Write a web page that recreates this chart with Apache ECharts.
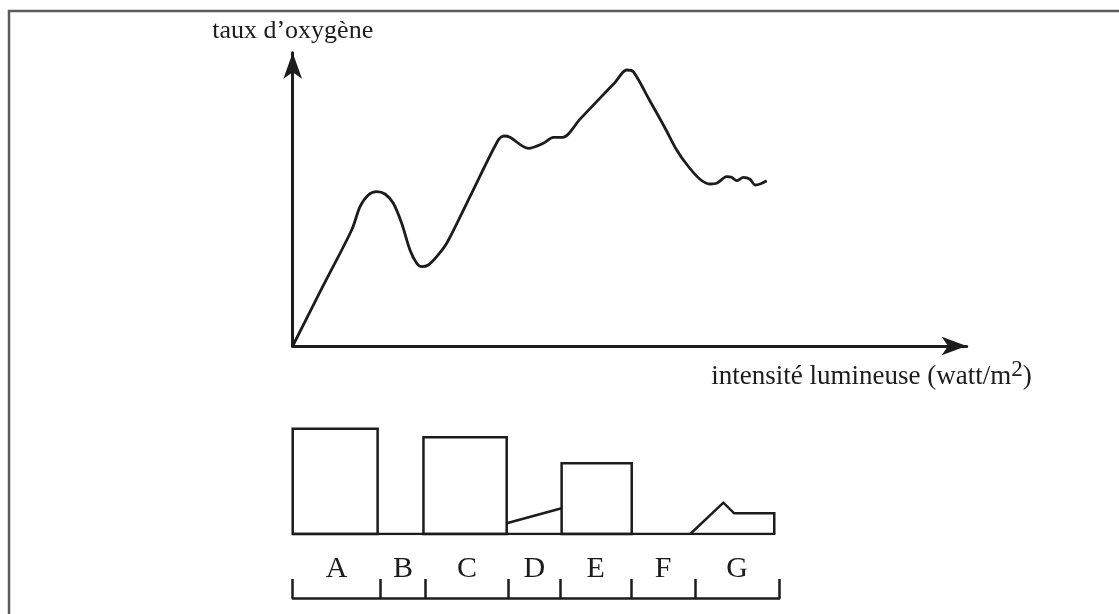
<!DOCTYPE html>
<html>
<head>
<meta charset="utf-8">
<script src="https://cdn.jsdelivr.net/npm/echarts@6/dist/echarts.min.js"></script>
<style>
  html, body { margin: 0; padding: 0; background: #ffffff; }
  #chart { width: 1119px; height: 614px; }
</style>
</head>
<body>
<div id="chart"></div>
<script>
// Oxygen production as a function of light intensity (arbitrary units, 0..100)
const oxygenCurve = [
  [0, 0], [4.35, 19.78], [8.75, 39.55], [9.99, 47.49], [11.22, 51.48], [12.46, 52.61],
  [13.69, 51.82], [14.93, 48.65], [16.17, 41.83], [17.40, 32.76], [18.40, 28.20],
  [19.14, 27.04], [20.12, 27.62], [21.36, 30.45], [22.85, 35.02], [25.82, 48.65],
  [26.60, 52.30], [30.50, 70.24], [31.35, 71.60], [32.24, 71.16], [34.96, 67.41],
  [37.18, 69.11], [38.66, 71.16], [40.06, 71.16], [42.63, 77.36], [45.59, 84.52],
  [47.82, 89.87], [49.55, 94.10], [50.53, 93.52], [53.01, 83.53], [55.24, 74.33],
  [56.97, 66.83], [58.65, 61.37], [60.43, 56.84], [61.91, 55.23], [62.91, 55.47],
  [64.39, 57.72], [65.13, 57.52], [65.88, 56.36], [66.86, 57.52], [67.86, 56.84],
  [68.60, 54.89], [69.34, 55.23], [70.33, 56.36]
];

// Light intensity ranges A..G (edges on the same intensity scale)
const bandNames = ['A', 'B', 'C', 'D', 'E', 'F', 'G'];
const bandEdges = [0, 13, 19.7, 32, 39.7, 50.2, 59.7, 72.2];
const bandMids = bandNames.map((_, i) => (bandEdges[i] + bandEdges[i + 1]) / 2);

// Lower profile: boxes [start, end, height]
const boxes = [
  [0, 12.6, 105.3],     // A
  [19.4, 31.75, 96.7],  // C
  [39.9, 50.3, 70.7]    // E
];
const profileD = [[31.75, 10.7], [39.9, 25.7]];
const profileG = [[58.98, 0], [63.9, 31.3], [65.5, 20.7], [71.45, 20.7], [71.45, 0]];
const profileBase = [[0, 0], [71.6, 0]];

const INK = '#1c1c1c';
const SERIF = "'Liberation Serif', 'DejaVu Serif', 'Times New Roman', serif";

const hiddenAxis = {
  show: false, splitLine: { show: false }, axisTick: { show: false }, axisLabel: { show: false }
};

const chart = echarts.init(document.getElementById('chart'), null, { renderer: 'canvas' });

chart.setOption({
  backgroundColor: '#ffffff',
  animation: false,
  graphic: [{
    type: 'rect',
    shape: { x: 9, y: 11, width: 1300, height: 800 },
    style: { fill: 'none', stroke: '#5c5c5c', lineWidth: 2.5 },
    silent: true
  }],
  grid: [
    { left: 292.7, top: 52.7, width: 674, height: 293.3 },
    { left: 292.7, top: 424, width: 674, height: 110 },
    { left: 292.7, top: 500, width: bandEdges[bandEdges.length - 1] * 6.74, height: 98 }
  ],
  xAxis: [
    {
      gridIndex: 0, type: 'value', min: 0, max: 100,
      splitLine: { show: false }, axisTick: { show: false }, axisLabel: { show: false },
      axisLine: {
        show: true, onZero: false,
        symbol: ['none', 'arrow'], symbolSize: [14, 25],
        lineStyle: { color: INK, width: 3 }
      },
      name: '{m|intensité lumineuse (watt/m}{sup|2}{m|)}',
      nameLocation: 'end', nameGap: 65,
      nameTextStyle: {
        fontFamily: SERIF, fontSize: 27, color: INK,
        align: 'right', verticalAlign: 'top', padding: [14, 0, 0, 0],
        rich: {
          m: { fontFamily: SERIF, fontSize: 27, color: INK, lineHeight: 30, verticalAlign: 'bottom' },
          sup: { fontFamily: SERIF, fontSize: 23, color: INK, lineHeight: 30, verticalAlign: 'bottom', padding: [0, 0, 9, 0] }
        }
      }
    },
    { gridIndex: 1, type: 'value', min: 0, max: 100, ...hiddenAxis },
    {
      gridIndex: 2, type: 'value', min: 0, max: bandEdges[bandEdges.length - 1],
      splitLine: { show: false },
      axisLine: { show: true, lineStyle: { color: INK, width: 2.5 } },
      axisTick: {
        show: true, inside: true, length: 19, customValues: bandEdges,
        lineStyle: { color: INK, width: 2.5 }
      },
      axisLabel: {
        show: true, inside: true, margin: 14, customValues: bandMids,
        fontFamily: SERIF, fontSize: 30, color: INK,
        formatter: v => {
          const i = bandMids.findIndex(m => Math.abs(m - v) < 1e-6);
          return i >= 0 ? bandNames[i] : '';
        }
      }
    }
  ],
  yAxis: [
    {
      gridIndex: 0, type: 'value', min: 0, max: 100,
      splitLine: { show: false }, axisTick: { show: false }, axisLabel: { show: false },
      axisLine: {
        show: true, onZero: false,
        symbol: ['none', 'arrow'], symbolSize: [14, 26],
        lineStyle: { color: INK, width: 3 }
      },
      name: 'taux d’oxygène',
      nameLocation: 'end', nameGap: 9,
      nameTextStyle: { fontFamily: SERIF, fontSize: 26, color: INK }
    },
    { gridIndex: 1, type: 'value', min: 0, max: 110, ...hiddenAxis },
    { gridIndex: 2, type: 'value', min: 0, max: 1, ...hiddenAxis }
  ],
  series: [
    {
      type: 'line', xAxisIndex: 0, yAxisIndex: 0,
      data: oxygenCurve, smooth: 0.3, symbol: 'none',
      lineStyle: { color: INK, width: 2.8 }
    },
    {
      type: 'custom', xAxisIndex: 1, yAxisIndex: 1,
      data: boxes,
      encode: { x: [0, 1], y: 2 },
      renderItem: (params, api) => {
        const p0 = api.coord([api.value(0), 0]);
        const p1 = api.coord([api.value(1), api.value(2)]);
        return {
          type: 'rect',
          shape: { x: p0[0], y: p1[1], width: p1[0] - p0[0], height: p0[1] - p1[1] },
          style: { fill: 'none', stroke: INK, lineWidth: 2.5 }
        };
      }
    },
    {
      type: 'line', xAxisIndex: 1, yAxisIndex: 1, data: profileBase,
      symbol: 'none', lineStyle: { color: INK, width: 2.5 }
    },
    {
      type: 'line', xAxisIndex: 1, yAxisIndex: 1, data: profileD,
      symbol: 'none', lineStyle: { color: INK, width: 2.5 }
    },
    {
      type: 'line', xAxisIndex: 1, yAxisIndex: 1, data: profileG,
      symbol: 'none', lineStyle: { color: INK, width: 2.5, join: 'miter' }
    }
  ]
});
</script>
</body>
</html>
